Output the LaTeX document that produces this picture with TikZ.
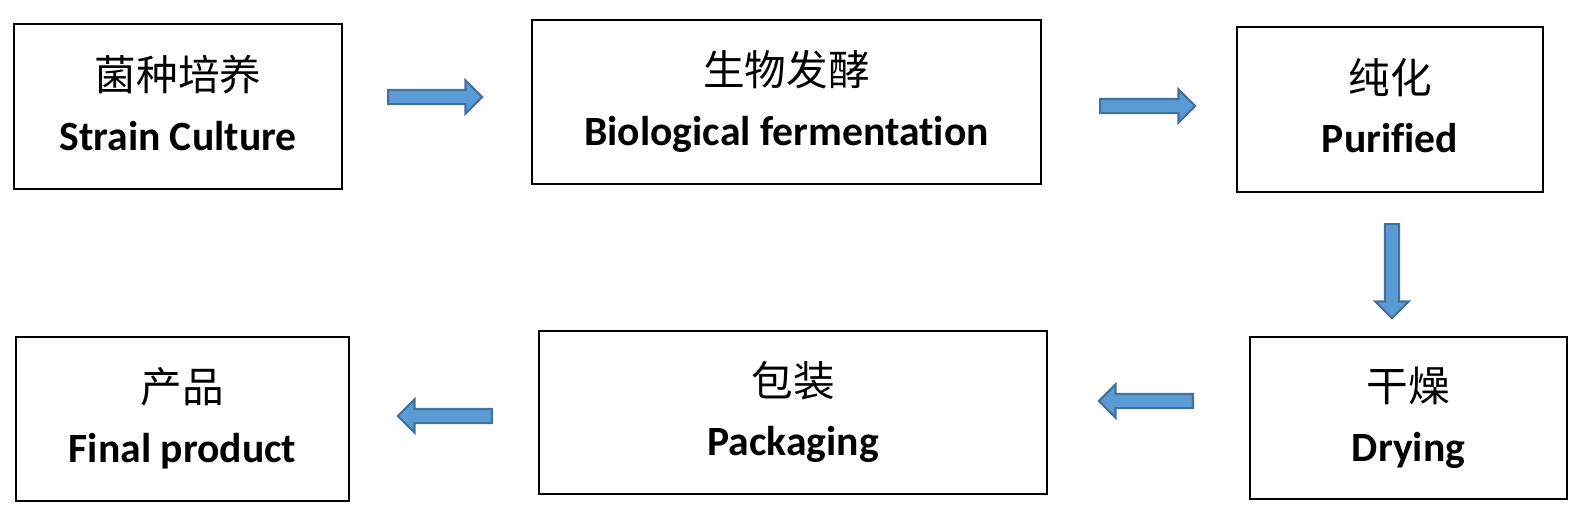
\documentclass[tikz,border=0pt]{standalone}
\usepackage{fontspec}
\setmainfont{Carlito}[Ligatures=NoCommon]
\newfontfamily\cjk{Noto Sans CJK SC}
\usetikzlibrary{shapes.arrows}
\definecolor{arrowfill}{HTML}{5B9BD5}
\definecolor{arrowline}{HTML}{41719C}

\begin{document}
\begin{tikzpicture}[
    stagebox/.style={draw,line width=1pt,align=center,text depth=8\U cm,
      font=\fontsize{23.7}{34}\selectfont},
    flowarrow/.style={single arrow,draw=arrowline,fill=arrowfill,line width=1.2pt,
      inner xsep=0pt,inner ysep=6\U cm,minimum height=#1\U cm,anchor=tail,
      single arrow head extend=9.5\U cm,single arrow head indent=0pt}]
    \def\U{*0.02}
    \useasboundingbox (0,0) rectangle (1578\U,-510\U);
    % 上排
    \node[stagebox,minimum width=328\U cm,minimum height=165\U cm] (culture)
      at (178\U,-106.5\U) {{\cjk 菌种培养}\\\textbf{Strain Culture}};
    \node[stagebox,minimum width=509\U cm,minimum height=164\U cm] (ferment)
      at (786.5\U,-102\U) {{\cjk 生物发酵}\\\textbf{Biological fermentation}};
    \node[stagebox,minimum width=306\U cm,minimum height=165\U cm] (purify)
      at (1390\U,-109.5\U) {{\cjk 纯化}\\\textbf{Purified}};
    % 下排
    \node[stagebox,minimum width=317\U cm,minimum height=162\U cm] (dry)
      at (1408.5\U,-418\U) {{\cjk 干燥}\\\textbf{Drying}};
    \node[stagebox,minimum width=508\U cm,minimum height=163\U cm] (pack)
      at (793\U,-412.5\U) {{\cjk 包装}\\\textbf{Packaging}};
    \node[stagebox,minimum width=333\U cm,minimum height=164\U cm] (product)
      at (182.5\U,-419\U) {{\cjk 产品}\\\textbf{Final product}};
    % 箭头（从尾部定位）
    \node[flowarrow=94] (culture-ferment) at (387\U,-97\U) {};
    \node[flowarrow=95] (ferment-purify) at (1099\U,-106\U) {};
    \node[flowarrow=94,rotate=-90] (purify-dry) at (1392\U,-223\U) {};
    \node[flowarrow=94,rotate=180] (dry-pack) at (1194\U,-401\U) {};
    \node[flowarrow=94,rotate=180] (pack-product) at (493\U,-416\U) {};
  \end{tikzpicture}
\end{document}
